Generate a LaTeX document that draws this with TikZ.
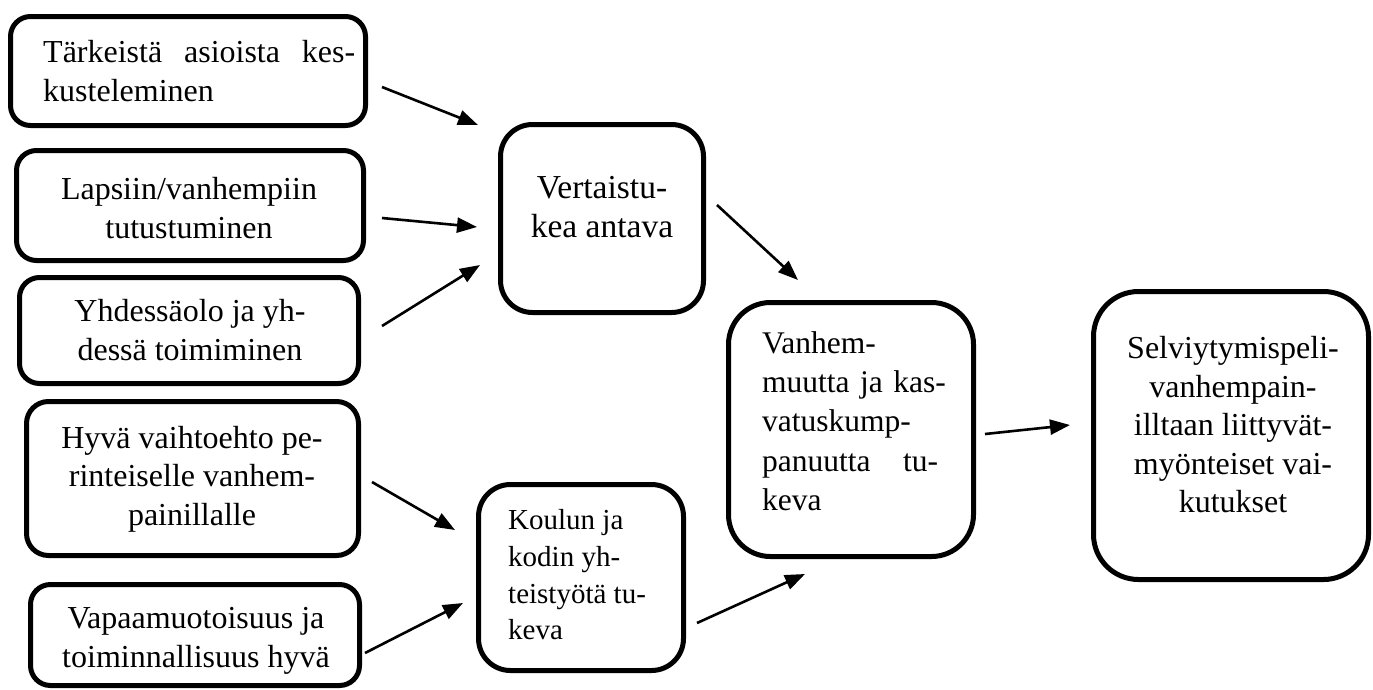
\documentclass[tikz,border=0pt]{standalone}
\usepackage{fontspec}
\setmainfont{Liberation Serif}
\usetikzlibrary{arrows.meta}
\begin{document}
\begin{tikzpicture}[x=1pt,y=-1pt,
  box/.style={draw=black, line width=5pt, inner sep=0pt},
  txt/.style={inner sep=0pt, align=center, font=\fontsize{32}{38.5}\selectfont},
  arr/.style={line width=2.6pt, -{Triangle[length=20pt,width=15pt]}}]
\useasboundingbox (0,0) rectangle (1373,689);
\fill[white] (0,0) rectangle (1373,689);

% boxes
\node[box, rounded corners=20pt, minimum width=355pt, minimum height=109pt] (b1) at (188,71) {};
\node[box, rounded corners=20pt, minimum width=347pt, minimum height=110pt] (b2) at (190,205.5) {};
\node[box, rounded corners=20pt, minimum width=339pt, minimum height=106pt] (b3) at (189,330.5) {};
\node[box, rounded corners=22pt, minimum width=332pt, minimum height=154pt] (b4) at (192.5,478.5) {};
\node[box, rounded corners=20pt, minimum width=329pt, minimum height=101pt] (b5) at (195,635) {};
\node[box, rounded corners=32pt, minimum width=203pt, minimum height=188pt] (v) at (602,218.5) {};
\node[box, rounded corners=32pt, minimum width=205pt, minimum height=186pt] (k) at (581,577.5) {};
\node[box, rounded corners=42pt, minimum width=245pt, minimum height=254pt] (h) at (851,429.5) {};
\node[box, rounded corners=45pt, minimum width=275pt, minimum height=288pt] (s) at (1231,435.5) {};

% texts
\node[txt, anchor=west, text width=316pt, align=left] (t1) at (43,71) {\makebox[312pt][l]{Tärkeistä\hfill asioista\hfill kes-}\\kusteleminen};
\node[txt] (t2) at (189,208) {Lapsiin/vanhempiin\\tutustuminen};
\node[txt] (t3) at (190,330) {Yhdessäolo ja yh-\\dessä toimiminen};
\node[txt] (t4) at (192,479) {Hyvä vaihtoehto pe-\\rinteiselle vanhem-\\painillalle};
\node[txt] (t5) at (196,641) {Vapaamuotoisuus ja\\toiminnallisuus hyvä};
\node[txt, font=\fontsize{33.5}{39.5}\selectfont] (tv) at (602,207) {Vertaistu-\\kea antava};
\node[txt, anchor=west, align=left, font=\fontsize{29}{36.7}\selectfont] (tk) at (508,575) {Koulun ja\\kodin yh-\\teistyötä tu-\\keva};
\node[txt, anchor=west, text width=184pt, align=left, font=\fontsize{31.5}{39.3}\selectfont] (th) at (762,421) {Vanhem-\\muutta ja kas-\\vatuskump-\\\makebox[176pt][l]{panuutta\hfill tu-}\\keva};
\node[txt] (ts) at (1233,425) {Selviytymispeli-\\vanhempain-\\illtaan liittyvät-\\myönteiset vai-\\kutukset};

% arrows
\coordinate (a1s) at (382,87);  \coordinate (a1e) at (478,125);
\coordinate (a2s) at (382,218); \coordinate (a2e) at (477,227);
\coordinate (a3s) at (382,326); \coordinate (a3e) at (480,265);
\coordinate (a4s) at (372,482); \coordinate (a4e) at (455,530);
\coordinate (a5s) at (365,653); \coordinate (a5e) at (463,603);
\coordinate (a6s) at (717,205); \coordinate (a6e) at (798,280);
\coordinate (a7s) at (697,623); \coordinate (a7e) at (805,574);
\coordinate (a8s) at (985,434); \coordinate (a8e) at (1070,425);
\draw[arr] (a1s) -- (a1e);
\draw[arr] (a2s) -- (a2e);
\draw[arr] (a3s) -- (a3e);
\draw[arr] (a4s) -- (a4e);
\draw[arr] (a5s) -- (a5e);
\draw[arr] (a6s) -- (a6e);
\draw[arr] (a7s) -- (a7e);
\draw[arr] (a8s) -- (a8e);
\end{tikzpicture}
\end{document}
